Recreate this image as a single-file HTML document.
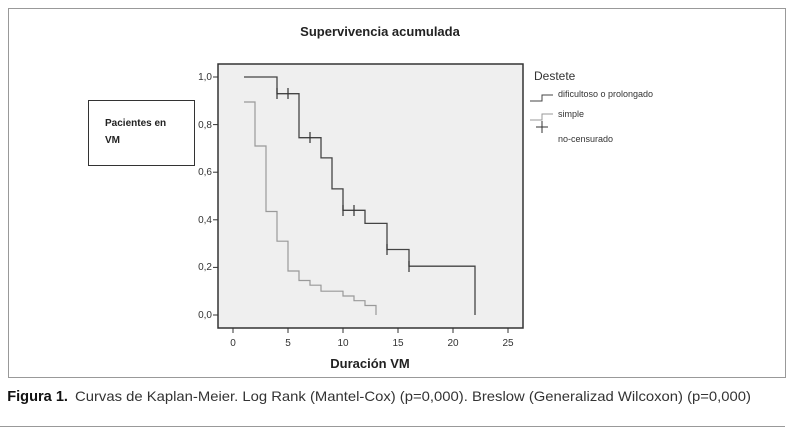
<!DOCTYPE html>
<html><head><style>
body{margin:0;background:#fff;width:800px;height:435px;overflow:hidden;font-family:"Liberation Sans",sans-serif}
</style></head><body>
<svg width="800" height="435" viewBox="0 0 800 435" xmlns="http://www.w3.org/2000/svg" font-family="Liberation Sans, sans-serif">
<rect x="8.5" y="8.5" width="777" height="369" fill="#fff" stroke="#999"/>
<text x="380" y="36" font-size="13" font-weight="bold" text-anchor="middle" fill="#222">Supervivencia acumulada</text>
<rect x="218" y="64" width="305" height="264" fill="#efefef" stroke="#333" stroke-width="1.5"/>
<g font-size="10" fill="#333" text-anchor="end">
<text x="212" y="80">1,0</text><text x="212" y="128">0,8</text><text x="212" y="175">0,6</text>
<text x="212" y="223">0,4</text><text x="212" y="270">0,2</text><text x="212" y="318">0,0</text>
</g>
<g stroke="#333"><line x1="213" x2="218" y1="77" y2="77"/><line x1="213" x2="218" y1="124.6" y2="124.6"/><line x1="213" x2="218" y1="172.2" y2="172.2"/><line x1="213" x2="218" y1="219.8" y2="219.8"/><line x1="213" x2="218" y1="267.4" y2="267.4"/><line x1="213" x2="218" y1="315" y2="315"/>
<line x1="233" x2="233" y1="328" y2="333"/><line x1="288" x2="288" y1="328" y2="333"/><line x1="343" x2="343" y1="328" y2="333"/><line x1="398" x2="398" y1="328" y2="333"/><line x1="453" x2="453" y1="328" y2="333"/><line x1="508" x2="508" y1="328" y2="333"/></g>
<g font-size="10" fill="#333" text-anchor="middle">
<text x="233" y="346">0</text><text x="288" y="346">5</text><text x="343" y="346">10</text><text x="398" y="346">15</text><text x="453" y="346">20</text><text x="508" y="346">25</text>
</g>
<text x="370" y="368" font-size="13" font-weight="bold" text-anchor="middle" fill="#222">Duración VM</text>
<rect x="88.5" y="100.5" width="106" height="65" fill="#fff" stroke="#333"/>
<text x="105" y="126" font-size="10" font-weight="bold" fill="#222">Pacientes en</text>
<text x="105" y="143" font-size="10" font-weight="bold" fill="#222">VM</text>
<path d="M244 77H277V93.7H299V137.7H321V157.9H332V188.9H343V210.3H365V223.4H387V249.5H409V266.2H475V315" fill="none" stroke="#444" stroke-width="1.3"/>
<path d="M244 102H255V146H266V211.5H277V241.2H288V271H299V280.5H310V285.2H321V291.2H343V296H354V300.7H365V305.5H376V315" fill="none" stroke="#999" stroke-width="1.2"/>
<g stroke="#333" stroke-width="1.2">
<line x1="277" x2="277" y1="88" y2="99"/><line x1="288" x2="288" y1="88" y2="99"/>
<line x1="310" x2="310" y1="132" y2="143"/>
<line x1="343" x2="343" y1="205" y2="216"/><line x1="354" x2="354" y1="205" y2="216"/>
<line x1="387" x2="387" y1="244" y2="255"/><line x1="409" x2="409" y1="261" y2="272"/>
</g>
<text x="534" y="80" font-size="12" fill="#333">Destete</text>
<path d="M530 101H542V95H553" fill="none" stroke="#444"/>
<text x="558" y="97" font-size="9" fill="#333">dificultoso o prolongado</text>
<path d="M530 120H542V114H553" fill="none" stroke="#999"/>
<text x="558" y="117" font-size="9" fill="#333">simple</text>
<path d="M542 121V133M536 127H548" stroke="#333"/>
<text x="558" y="142" font-size="9" fill="#333">no-censurado</text>
<text x="9" y="401" font-size="15" font-weight="bold" fill="#111" transform="scale(0.8,1)" textLength="76" lengthAdjust="spacingAndGlyphs">Figura 1.</text>
<text x="75" y="401" font-size="14" fill="#333" textLength="676" lengthAdjust="spacingAndGlyphs">Curvas de Kaplan-Meier. Log Rank (Mantel-Cox) (p=0,000). Breslow (Generalizad Wilcoxon) (p=0,000)</text>
<line x1="0" x2="785" y1="426.5" y2="426.5" stroke="#999"/>
</svg>
</body></html>
